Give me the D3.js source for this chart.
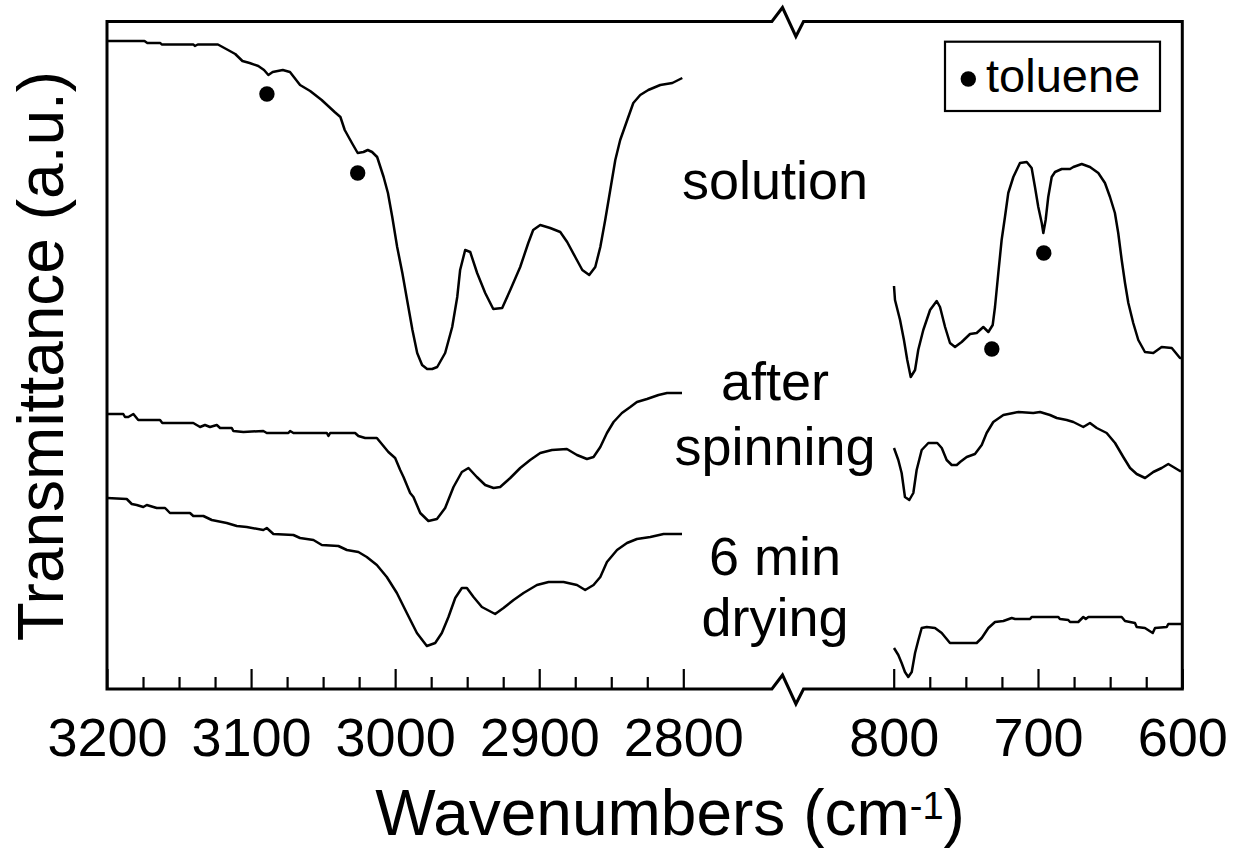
<!DOCTYPE html>
<html>
<head>
<meta charset="utf-8">
<script src="https://cdn.jsdelivr.net/npm/d3@7"></script>
<style>
  html, body { margin: 0; padding: 0; background: #fff; }
  svg { display: block; }
  text { font-family: "Liberation Sans", Arial, Helvetica, sans-serif; fill: #000; }
</style>
</head>
<body>
<svg id="chart" width="1233" height="849"></svg>
<script>
// FT-IR transmittance spectra, stacked, with a broken wavenumber axis.
// Each point is [wavenumber (cm-1), transmittance (a.u., offset for stacking)].

const solutionHigh = [[3200,648],[3174,648],[3172,646],[3163,646],[3162,644.5],[3140,644.5],[3139,643],[3137,644.5],[3123,644.5],[3116,639],[3111,635],[3106,628],[3101,626],[3095,623],[3091,619],[3088,614],[3085,617],[3078,619],[3073,617],[3066,604],[3059,598],[3051,589],[3042,577],[3038,572],[3035,559],[3030,546],[3026,536],[3022,537],[3019,539],[3016,537],[3012.5,532],[3008,512],[3005,496],[3002,472],[2998.6,442],[2995,416],[2991.7,389],[2988,359],[2984.7,336],[2981.3,324],[2977.8,320],[2974.3,320],[2970.8,322],[2965.3,336],[2960.4,362],[2956.9,392],[2954.9,419],[2951.4,439],[2947.9,437],[2943.1,416],[2937.5,396],[2931.9,380],[2925.7,381],[2920.1,399],[2913.2,422],[2907.6,446],[2904.2,459],[2899.3,464],[2892.4,461],[2885.4,457],[2880.6,447],[2875,432],[2870.1,419],[2865.3,414],[2861.1,422],[2857.6,442],[2854.2,469],[2850.7,499],[2847.2,529],[2843.8,549],[2838.9,569],[2834.7,586],[2829.9,594],[2824.3,599],[2816,604],[2807.6,606],[2800.7,611]];

const solutionLow = [[799.8,403],[799.1,389],[795.6,369],[792.9,349],[790.6,329],[788.2,312],[785.2,319],[783,339],[779.5,359],[774.8,379],[770.2,388],[767.9,382],[764.4,362],[761,346],[757.5,342],[752.9,347],[747.1,355],[742.5,356],[737.9,362],[734.4,357],[731.4,364],[729.8,382],[727.5,416],[725.2,449],[722.9,472],[720.6,496],[717.1,512],[712.5,526],[707.8,527],[704.4,521],[702.1,502],[699.8,482],[697.4,466],[696.3,456],[694.7,469],[692.9,492],[690.5,512],[688.2,517],[683.6,520],[677.8,520],[675.5,522],[669.7,525],[664,522],[658.2,516],[653.6,506],[650.1,492],[646.7,476],[644.4,456],[642,429],[639.7,406],[637.4,386],[634,366],[630.5,349],[625.9,337],[620.1,336],[614.3,342],[607.3,341],[601.6,331],[600,331]];

const spinningHigh = [[3200,275],[3188.7,275],[3187.5,272],[3185.2,272],[3181.7,275],[3178.3,269],[3163.2,269],[3161.6,266],[3140.1,266],[3135.4,262],[3132,264],[3128.5,262],[3123.8,264],[3121.5,261],[3113.4,261],[3112.3,258],[3105.3,257],[3091.5,258],[3089.1,256],[3074.1,256],[3072.9,258],[3070.6,256],[3047.4,256],[3046.3,253],[3045.1,256],[3027.8,256],[3025.5,253],[3020.8,251],[3012.7,251],[3004.7,237],[3000,231],[2996.5,219],[2994.2,212],[2989.6,196],[2987.3,192],[2982.6,176],[2976.9,168],[2971,170],[2965.3,181],[2959.5,202],[2953.7,217],[2949.1,221],[2943.3,212],[2937.5,204],[2931.7,201],[2927.1,202],[2920.1,211],[2913.2,221],[2906.3,229],[2899.3,236],[2891.2,239],[2880.8,240],[2873.8,234],[2866.9,230],[2862.3,232],[2857.6,242],[2853,256],[2848.4,267],[2842.6,276],[2836.8,282],[2832.2,287],[2825.2,290],[2817.2,294],[2811.3,296],[2800.9,296]];

const spinningLow = [[799.8,241],[796.8,229],[794.5,216],[792.2,192],[789.2,189],[786.4,196],[784.1,219],[780.6,239],[776,246],[769.8,246],[766.7,241],[763.3,229],[759.8,224],[756.3,224],[754,227],[749.4,232],[743.7,235],[739,244],[735.6,256],[731,267],[724,274],[717.1,276],[713.6,277],[703.3,276],[698.6,277],[691.7,274],[687,271],[680.1,269],[675.5,267],[668.6,262],[664,266],[659.3,261],[652.4,256],[646.6,246],[640.9,232],[636.2,221],[631.6,215],[625.8,211],[620.1,217],[614.3,221],[609.7,225],[606.2,222],[601.6,218],[600,218]];

const dryingHigh = [[3200,191],[3186.3,190],[3182.8,185],[3179.4,184],[3174.8,182],[3172.4,184],[3165.5,181],[3159.7,181],[3156.3,176],[3142.4,176],[3140.1,173],[3133.1,173],[3127.3,169],[3116.9,166],[3109.9,163],[3103,162],[3091.5,159],[3089.1,161],[3084.5,155],[3070.6,154],[3066,151],[3056.7,149],[3050.9,144],[3039.4,143],[3033.5,139],[3025.5,137],[3019.7,132],[3012.7,124],[3005.8,112],[2998.8,96],[2991.9,76],[2984.9,56],[2978,43],[2972.2,46],[2967.6,56],[2963,72],[2958.3,91],[2953.7,101],[2950.2,101],[2945.6,92],[2939.8,82],[2930.6,75],[2924.8,81],[2917.8,89],[2910.9,96],[2901.6,104],[2893.5,107],[2883.1,107],[2873.8,104],[2868.1,99],[2862.3,104],[2857.6,112],[2853,127],[2846,139],[2839.1,146],[2832.2,150],[2822.9,152],[2813.7,155],[2800.9,155]];

const dryingLow = [[799.8,41],[796.8,34],[794.5,26],[792.2,17],[789.9,12],[787.5,17],[785.2,36],[782.9,49],[780.6,61],[777.1,62],[771.4,61],[766.7,56],[761,46],[742.5,46],[739,51],[734.4,61],[729.8,67],[724,68],[718.2,71],[715.9,70],[705.5,70],[704.4,72],[685.9,72],[684.8,70],[679,69],[677.8,67],[672.1,67],[668.6,72],[666.9,70],[665.1,72],[642,72],[639.7,68],[632.8,66],[631.6,62],[625.9,61],[620.5,56],[618.9,61],[610.8,62],[609.7,65],[600.2,65]];

// toluene bands marked on the solution spectrum
const tolueneHigh = [[3089,595],[3026,516]];
const tolueneLow = [[732,340],[696,436]];

const ticksHigh = [3200, 3100, 3000, 2900, 2800];
const ticksLow = [800, 700, 600];
const minorHigh = [3175, 3150, 3125, 3075, 3050, 3025, 2975, 2950, 2925, 2875, 2850, 2825];
const minorLow = [775, 750, 725, 675, 650, 625];

const sampleLabels = [
  { lines: ["solution"] },
  { lines: ["after", "spinning"] },
  { lines: ["6 min", "drying"] }
];

// ---------- scales ----------
const svg = d3.select("#chart");
const xHigh = d3.scaleLinear().domain([3200, 2800]).range([107, 683.3]);
const xLow = d3.scaleLinear().domain([800, 600]).range([893.7, 1182.3]);
const y = d3.scaleLinear().domain([0, 667.5]).range([689, 21.5]);

const yTop = y.range()[1], yBot = y.range()[0];
const breakA = xHigh(2738.5), breakB = xLow(862.5);
const axisW = 3;

// ---------- spectra ----------
const lineHigh = d3.line().x(d => xHigh(d[0])).y(d => y(d[1]));
const lineLow = d3.line().x(d => xLow(d[0])).y(d => y(d[1]));

const gLines = svg.append("g")
  .attr("fill", "none").attr("stroke", "#000")
  .attr("stroke-width", 2.5).attr("stroke-linejoin", "round");
[solutionHigh, spinningHigh, dryingHigh].forEach(s => gLines.append("path").attr("d", lineHigh(s)));
[solutionLow, spinningLow, dryingLow].forEach(s => gLines.append("path").attr("d", lineLow(s)));

svg.append("g").selectAll("circle").data(tolueneHigh).join("circle")
  .attr("cx", d => xHigh(d[0])).attr("cy", d => y(d[1])).attr("r", 7.7).attr("fill", "#000");
svg.append("g").selectAll("circle").data(tolueneLow).join("circle")
  .attr("cx", d => xLow(d[0])).attr("cy", d => y(d[1])).attr("r", 7.7).attr("fill", "#000");

// ---------- frame with axis break ----------
const frame = svg.append("g").attr("fill", "none").attr("stroke", "#000")
  .attr("stroke-width", axisW).attr("stroke-linejoin", "miter");

function zig(yy) {
  return `L${breakA},${yy} L${breakA + 10.6},${yy - 14} L${breakA + 24},${yy + 15} L${breakB},${yy}`;
}
frame.append("path").attr("d",
  `M${xHigh(3200)},${yBot} ${zig(yBot)} L${xLow(600)},${yBot} L${xLow(600)},${yTop} L${breakB},${yTop} ` +
  `L${breakA + 24},${yTop + 15} L${breakA + 10.6},${yTop - 14} L${breakA},${yTop} L${xHigh(3200)},${yTop} Z`);

// ---------- ticks (inward) and labels ----------
function addAxis(scale, majors, minors) {
  const gMinor = svg.append("g").attr("transform", `translate(0,${yBot})`)
    .call(d3.axisBottom(scale).tickValues(minors).tickSize(-12).tickFormat(""));
  gMinor.select(".domain").remove();
  const gMajor = svg.append("g").attr("transform", `translate(0,${yBot})`)
    .call(d3.axisBottom(scale).tickValues(majors).tickSize(-20).tickPadding(29).tickFormat(d3.format("d")));
  gMajor.select(".domain").remove();
  [gMinor, gMajor].forEach(g => {
    g.selectAll(".tick line").attr("stroke", "#000").attr("stroke-width", 2.2);
  });
  gMajor.selectAll(".tick text")
    .attr("font-size", 54).attr("fill", "#000")
    .style("font-family", "'Liberation Sans', Arial, sans-serif");
}
addAxis(xHigh, ticksHigh, minorHigh);
addAxis(xLow, ticksLow, minorLow);

// axis titles
const xTitle = svg.append("text")
  .attr("x", 670).attr("y", 835).attr("text-anchor", "middle").attr("font-size", 64);
xTitle.append("tspan").text("Wavenumbers (cm");
xTitle.append("tspan").attr("font-size", 38).attr("dy", -16).text("-1");
xTitle.append("tspan").attr("dy", 16).text(")");

svg.append("text")
  .attr("transform", "translate(63,356) rotate(-90)")
  .attr("text-anchor", "middle").attr("font-size", 64)
  .text("Transmittance (a.u.)");

// spectrum names
const baselines = [[199], [400, 465], [575, 636]];
sampleLabels.forEach((lab, i) => {
  lab.lines.forEach((ln, j) => {
    svg.append("text")
      .attr("x", 775).attr("y", baselines[i][j])
      .attr("text-anchor", "middle").attr("font-size", 54)
      .text(ln);
  });
});

// legend
const leg = svg.append("g");
leg.append("rect").attr("x", 945).attr("y", 41.7).attr("width", 215).attr("height", 69.3)
  .attr("fill", "#fff").attr("stroke", "#000").attr("stroke-width", 2.2);
leg.append("circle").attr("cx", 968.3).attr("cy", 79).attr("r", 7.7).attr("fill", "#000");
leg.append("text").attr("x", 986).attr("y", 92).attr("font-size", 47).text("toluene");
</script>
</body>
</html>
